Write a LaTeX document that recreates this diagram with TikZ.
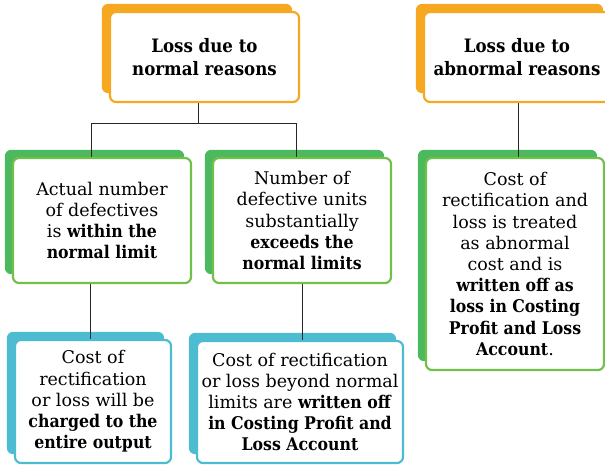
\documentclass[tikz,border=0pt]{standalone}
\usepackage{fontspec}
\setmainfont{DejaVu Serif}[BoldFont={DejaVu Serif Condensed Bold}]
\usepackage{xcolor}
\usepackage{tikz}
\usetikzlibrary{positioning,calc,backgrounds}

\definecolor{orangeS}{HTML}{F6A821}
\definecolor{greenS}{HTML}{4DB95F}
\definecolor{greenB}{HTML}{72C04A}
\definecolor{blueS}{HTML}{4DBBD0}

\tikzset{
  box/.style={draw=#1, line width=2.2pt, fill=white, rounded corners=6pt,
    align=center, inner sep=0pt, font=\fontsize{17.5}{21.2}\selectfont},
  head/.style={box=#1, font=\fontsize{18.5}{22.5}\selectfont\bfseries},
  link/.style={line width=0.9pt, black!85},
}

\begin{document}
\begin{tikzpicture}[x=1pt, y=-1pt]
\useasboundingbox (0,0) rectangle (605,464);

% top row
\node[head=orangeS, minimum width=189pt, minimum height=90pt] (normal) at (204.5,57)
  {Loss due to\\ normal reasons};
\node[head=orangeS, minimum width=186pt, minimum height=90pt] (abnormal) at (517,57)
  {Loss due to\\ abnormal reasons};

% middle row
\node[box=greenB, minimum width=178pt, minimum height=125pt] (within) at (102,220.5)
  {Actual number\\ of defectives\\ is \textbf{within the}\\ \textbf{normal limit}};
\node[box=greenB, minimum width=178pt, minimum height=125pt] (exceeds) at (302,220.5)
  {Number of\\ defective units\\ substantially\\ \textbf{exceeds the}\\ \textbf{normal limits}};
\node[box=greenB, minimum width=178pt, minimum height=212pt] (treated) at (515,264)
  {Cost of\\ rectification and\\ loss is treated\\ as abnormal\\ cost and is\\
   \textbf{written off as}\\ \textbf{loss in Costing}\\ \textbf{Profit and Loss}\\ \textbf{Account}.};

% bottom row
\node[box=blueS, minimum width=156pt, minimum height=123pt] (charged) at (93,401.5)
  {Cost of\\ rectification\\ or loss will be\\ \textbf{charged to the}\\ \textbf{entire output}};
\node[box=blueS, minimum width=206pt, minimum height=122pt] (written) at (300,402)
  {Cost of rectification\\ or loss beyond normal\\ limits are \textbf{written off}\\
   \textbf{in Costing Profit and}\\ \textbf{Loss Account}};

\begin{pgfonlayer}{background}
% shadows
\foreach \n/\c in {normal/orangeS, abnormal/orangeS, within/greenS, exceeds/greenS,
                   treated/greenS, charged/blueS, written/blueS}
  \fill[\c, rounded corners=6pt] ($(\n.north west)+(-7,-7)$) rectangle ($(\n.south east)+(-8,-10)$);
% connectors
\coordinate (hub) at (198,123);
\coordinate (la) at (91,123);
\coordinate (lb) at (296,123);
\draw[link] (normal.south -| hub) -- (hub);
\draw[link] (la) -- (lb);
\draw[link] (la) -- (la |- within.north);
\draw[link] (lb) -- (lb |- exceeds.north);
\draw[link] (abnormal.south -| 518,0) -- (518,0 |- treated.north);
\draw[link] (within.south -| 90,0) -- (90,0 |- charged.north);
\draw[link] (exceeds.south -| 302,0) -- (302,0 |- written.north);
\end{pgfonlayer}
\end{tikzpicture}
\end{document}
